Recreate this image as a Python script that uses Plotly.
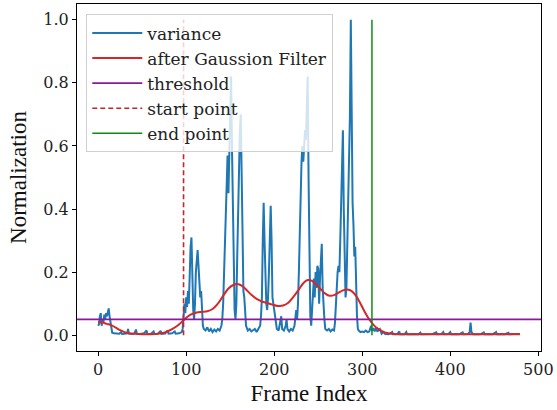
import plotly.graph_objects as go

# variance (normalized)
var_x = [0,1,2,3,4,5,6,7,8,9,10,11,12,13,14,15,16,18,20,22,24,26,27,30,33,34,35,38,41,43,44,48,52,55,56,60,63,64,68,71,72,76,79,80,84,87,88,92,95,
         96,97,98,99,100,101,102,103,104,105,106,107,108,109,110,111,112,113,114,115,116,117,118,119,120,122,124,126,128,130,132,134,136,138,
         140,141,142,143,144,145,146,147,148,149,150,151,152,153,154,155,156,157,158,159,160,161,162,163,164,165,166,167,168,170,172,174,176,178,180,182,
         184,185,186,187,188,189,190,191,192,193,194,195,196,197,198,199,200,201,202,203,205,207,208,209,211,213,214,215,217,219,221,
         223,224,225,226,227,228,229,230,231,232,233,234,235,236,237,238,239,240,241,242,243,244,245,246,247,248,249,250,251,252,253,254,255,256,257,258,
         260,262,264,266,268,269,270,271,272,273,274,275,276,277,278,279,280,281,282,283,284,285,286,287,288,289,290,291,292,293,294,295,296,298,
         300,302,304,306,308,310,311,313,314,316,317,320,321,322,324,326,330,334,335,340,342,343,348,350,351,356,360,364,366,367,372,376,380,
         384,385,390,392,393,398,400,401,406,410,414,415,420,422,423,424,426,430,434,438,439,444,448,452,453,458,462,466,467,472,476,479]
var_y = [0.03,0.035,0.06,0.07,0.03,0.05,0.04,0.065,0.05,0.07,0.06,0.08,0.085,0.06,0.04,0.015,0.008,0.006,0.005,0.006,0.005,0.01,0.004,0.005,0.006,0.02,0.005,0.004,0.005,0.018,0.005,0.004,0.006,0.015,0.004,0.005,0.012,0.004,0.005,0.014,0.004,0.005,0.015,0.005,0.006,0.012,0.005,0.006,0.01,
         0.02,0.06,0.1,0.07,0.12,0.09,0.14,0.1,0.2,0.28,0.31,0.15,0.08,0.05,0.1,0.2,0.25,0.27,0.22,0.18,0.12,0.14,0.06,0.03,0.02,0.015,0.025,0.012,0.02,0.01,0.018,0.012,0.02,0.015,
         0.03,0.05,0.1,0.2,0.3,0.42,0.5,0.57,0.45,0.6,0.75,0.82,0.6,0.4,0.15,0.08,0.05,0.1,0.25,0.4,0.55,0.65,0.7,0.55,0.3,0.14,0.12,0.06,0.03,0.015,0.02,0.012,0.015,0.02,0.01,0.02,
         0.03,0.06,0.12,0.3,0.42,0.3,0.15,0.1,0.08,0.12,0.2,0.35,0.41,0.3,0.12,0.1,0.08,0.06,0.04,0.02,0.015,0.04,0.06,0.02,0.015,0.03,0.05,0.02,0.012,0.02,0.015,
         0.03,0.06,0.08,0.05,0.1,0.2,0.35,0.5,0.55,0.6,0.55,0.6,0.65,0.62,0.7,0.82,0.5,0.2,0.06,0.03,0.08,0.15,0.18,0.12,0.2,0.15,0.22,0.21,0.1,0.18,0.22,0.29,0.15,0.08,0.05,0.02,
         0.015,0.02,0.012,0.018,0.015,0.04,0.1,0.15,0.2,0.22,0.2,0.3,0.45,0.6,0.65,0.4,0.2,0.12,0.15,0.3,0.5,0.65,0.7,1.0,0.6,0.42,0.35,0.25,0.28,0.15,0.06,0.02,0.015,0.01,
         0.012,0.01,0.015,0.01,0.012,0.03,0.015,0.02,0.012,0.025,0.012,0.02,0.01,0.005,0.01,0.004,0.003,0.01,0.003,0.004,0.012,0.003,0.003,0.01,0.003,0.004,0.004,0.003,0.008,0.003,0.004,0.003,0.004,
         0.009,0.003,0.004,0.01,0.003,0.004,0.01,0.003,0.004,0.003,0.009,0.003,0.004,0.01,0.04,0.01,0.003,0.004,0.003,0.009,0.003,0.004,0.003,0.01,0.003,0.004,0.003,0.008,0.003,0.004,0.003,0.004]

# Gaussian-filtered curve
gauss_x = [0,5,10,15,20,25,30,35,45,55,65,72,78,84,90,95,100,105,112,118,124,130,136,142,148,154,158,163,168,174,180,186,192,198,204,210,216,222,228,233,238,243,248,253,258,263,268,273,278,283,288,293,298,303,308,313,318,323,328,335,345,360,380,400,420,440,460,479]
gauss_y = [0.042,0.04,0.036,0.032,0.024,0.016,0.01,0.006,0.004,0.003,0.004,0.006,0.011,0.019,0.03,0.042,0.055,0.065,0.072,0.074,0.076,0.083,0.1,0.125,0.148,0.16,0.162,0.157,0.145,0.128,0.115,0.107,0.102,0.097,0.093,0.094,0.103,0.122,0.145,0.165,0.175,0.172,0.16,0.145,0.132,0.125,0.127,0.135,0.142,0.145,0.14,0.125,0.1,0.073,0.05,0.032,0.02,0.012,0.007,0.004,0.003,0.003,0.003,0.003,0.003,0.003,0.003,0.003]

threshold = 0.05
start_point = 97
end_point = 311

x_range = [-24, 503]
y_range = [-0.05, 1.05]
x_ticks = [0, 100, 200, 300, 400, 500]
y_ticks = [0.0, 0.2, 0.4, 0.6, 0.8, 1.0]

TITLE_FONT = "Liberation Serif"
SMALL_SERIF = "DejaVu Serif"

fig = go.Figure()
fig.add_trace(go.Scatter(x=var_x, y=var_y, mode="lines", name="variance",
                         line=dict(color="#1f77b4", width=2)))
fig.add_trace(go.Scatter(x=gauss_x, y=gauss_y, mode="lines", name="after Gaussion Filter",
                         line=dict(color="#d62728", width=2, shape="spline")))
fig.add_trace(go.Scatter(x=x_range, y=[threshold, threshold], mode="lines", name="threshold",
                         line=dict(color="#8b1a9b", width=1.8)))
fig.add_trace(go.Scatter(x=[start_point, start_point], y=[0, 1], mode="lines", name="start point",
                         line=dict(color="#c0282d", width=1.6, dash="5px,3px")))
fig.add_trace(go.Scatter(x=[end_point, end_point], y=[0, 1], mode="lines", name="end point",
                         line=dict(color="#138a13", width=1.5)))

axis_common = dict(showline=True, mirror=True, linecolor="black", linewidth=1,
                   ticks="outside", ticklen=4, tickcolor="black", showgrid=False, zeroline=False,
                   tickfont=dict(family=SMALL_SERIF, size=16, color="#222"))
fig.update_xaxes(range=x_range, tickvals=x_ticks, ticktext=[str(v) for v in x_ticks],
                 title=dict(text="Frame Index", font=dict(family=TITLE_FONT, size=23, color="#111"), standoff=6),
                 **axis_common)
fig.update_yaxes(range=y_range, tickvals=y_ticks, ticktext=[f"{v:.1f}" for v in y_ticks],
                 title=dict(text="Normalization", font=dict(family=TITLE_FONT, size=23, color="#111"), standoff=10),
                 **axis_common)

fig.update_layout(
    width=557, height=410,
    margin=dict(l=77, r=14, t=3, b=59),
    plot_bgcolor="white", paper_bgcolor="white",
    font=dict(family=SMALL_SERIF, color="#222"),
    showlegend=True,
    legend=dict(x=0.02, y=0.97, xanchor="left", yanchor="top",
                bgcolor="rgba(255,255,255,0.8)", bordercolor="#d0d0d0", borderwidth=1,
                font=dict(family=SMALL_SERIF, size=17, color="#222"),
                tracegroupgap=0, itemwidth=50),
)

fig.write_html("out.html")
